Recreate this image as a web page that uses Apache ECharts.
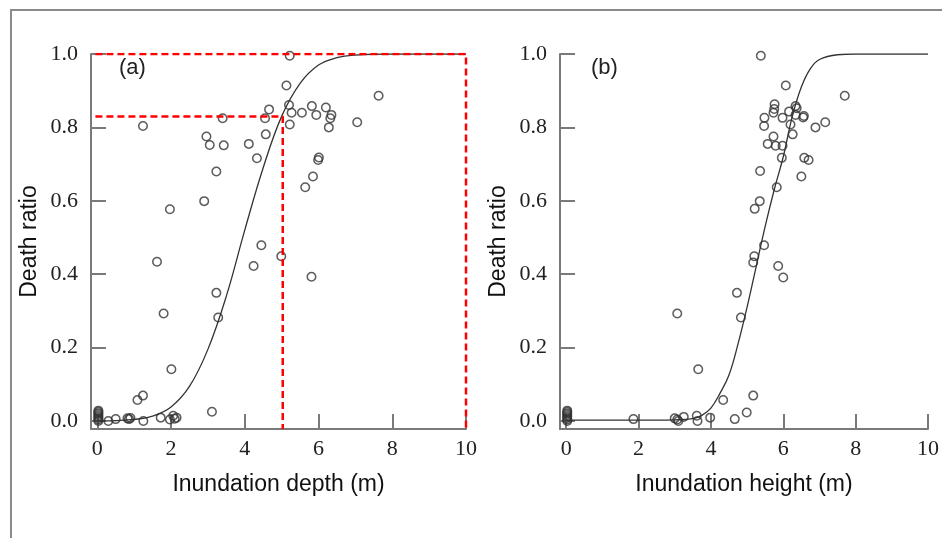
<!DOCTYPE html>
<html>
<head>
<meta charset="utf-8">
<script src="https://cdn.jsdelivr.net/npm/echarts@6/dist/echarts.min.js"></script>
<style>
html,body{margin:0;padding:0;background:#fff;}
#c{width:942px;height:538px;}
</style>
</head>
<body>
<div id="c"></div>
<script>
// ---------- data ----------
const xTicks = [0, 2, 4, 6, 8, 10];
const yTicks = [0, 0.2, 0.4, 0.6, 0.8, 1.0];

// (a) Inundation depth vs death ratio
const depthPoints = [
  [0.03,0.0],[0.03,0.004],[0.03,0.008],[0.03,0.012],[0.03,0.016],[0.03,0.02],[0.03,0.024],[0.03,0.028],
  [0.3,0.0],[0.5,0.005],[0.82,0.007],[0.86,0.005],[0.9,0.008],[1.25,0.0],[1.72,0.009],[1.97,0.004],
  [2.06,0.014],[2.1,0.006],[2.15,0.009],
  [1.09,0.057],[1.24,0.069],[3.11,0.025],[2.01,0.141],[1.80,0.293],[3.28,0.282],[3.23,0.349],
  [1.62,0.434],[4.24,0.422],[4.45,0.479],[4.99,0.449],[5.81,0.393],
  [1.24,0.804],[1.97,0.577],[2.90,0.599],[3.23,0.680],[2.96,0.775],[3.05,0.752],[3.43,0.751],
  [3.40,0.825],[4.11,0.755],[4.33,0.716],[4.57,0.781],[4.55,0.825],[4.66,0.849],
  [5.22,0.995],[5.13,0.914],[5.20,0.861],[5.27,0.840],[5.22,0.808],[5.55,0.840],[5.82,0.858],
  [5.94,0.834],[6.20,0.854],[6.35,0.834],[6.32,0.825],[6.28,0.800],[6.01,0.718],[5.99,0.711],
  [5.85,0.666],[5.64,0.637],[7.05,0.814],[7.63,0.886]
];
const depthCurve = [
  [0,0.0],[0.5,0.001],[1.0,0.004],[1.5,0.013],[2.0,0.038],[2.5,0.094],[3.0,0.195],[3.5,0.34],
  [4.0,0.52],[4.5,0.69],[5.0,0.83],[5.5,0.92],[6.0,0.97],[6.5,0.99],[7.0,0.997],[8.0,1.0],[10.0,1.0]
];
const redOuter = [[-0.05,1.0],[10,1.0],[10,-0.022]];
const redInner = [[-0.05,0.83],[5.03,0.83],[5.03,-0.022]];

// (b) Inundation height vs death ratio
const heightPoints = [
  [0.03,0.0],[0.03,0.004],[0.03,0.008],[0.03,0.012],[0.03,0.016],[0.03,0.02],[0.03,0.024],[0.03,0.028],
  [1.86,0.005],[3.0,0.007],[3.07,0.004],[3.1,0.0],[3.25,0.011],[3.61,0.014],[3.63,0.0],[3.98,0.009],[4.66,0.005],
  [4.99,0.023],[4.34,0.057],[5.17,0.069],[3.65,0.141],[3.07,0.293],[4.83,0.282],[4.72,0.349],
  [6.0,0.391],[5.86,0.422],[5.17,0.432],[5.20,0.449],[5.47,0.479],
  [5.21,0.578],[5.35,0.599],[5.82,0.637],[6.50,0.666],[5.36,0.681],[5.96,0.717],[6.58,0.717],
  [6.70,0.711],[5.57,0.755],[5.79,0.750],[5.98,0.750],[5.73,0.775],[6.26,0.781],[5.47,0.804],
  [6.20,0.808],[6.89,0.800],[7.16,0.814],[5.48,0.826],[5.98,0.826],[6.55,0.827],[6.57,0.831],
  [6.34,0.834],[5.73,0.840],[6.16,0.843],[5.75,0.850],[6.37,0.852],[6.34,0.858],[5.76,0.863],
  [7.70,0.886],[6.07,0.914],[5.38,0.995]
];
const heightCurve = [
  [0,0.002],[1,0.002],[2,0.002],[3,0.003],[3.5,0.006],[3.75,0.015],[4.0,0.035],[4.25,0.075],
  [4.5,0.125],[4.75,0.21],[5.0,0.31],[5.25,0.42],[5.5,0.53],[5.75,0.63],[6.0,0.72],[6.25,0.83],
  [6.5,0.91],[6.75,0.96],[7.0,0.985],[7.5,0.998],[8.0,1.0],[10.0,1.0]
];

const xNames = ['Inundation depth (m)', 'Inundation height (m)'];
const yName = 'Death ratio';
const panelLabels = ['(a)', '(b)'];

// ---------- chart ----------
const chart = echarts.init(document.getElementById('c'), null, {renderer: 'canvas'});
const axisCol = '#7a7a7a';
const serif = '"Liberation Serif", "Times New Roman", serif';
const sans = '"Liberation Sans", Arial, sans-serif';

function xAx(i) {
  return {
    type: 'value', gridIndex: i, min: -0.17, max: 10,
    name: xNames[i], nameLocation: 'middle', nameGap: 44,
    nameTextStyle: {fontFamily: sans, fontSize: 23, color: '#111'},
    axisLine: {show: true, onZero: false, lineStyle: {color: axisCol, width: 2}},
    axisTick: {show: true, inside: true, length: 15, customValues: xTicks, lineStyle: {color: axisCol, width: 2}},
    axisLabel: {customValues: xTicks, margin: 9, fontFamily: serif, fontSize: 22, color: '#222'},
    splitLine: {show: false}
  };
}
function yAx(i) {
  return {
    type: 'value', gridIndex: i, min: -0.022, max: 1.0,
    name: yName, nameLocation: 'middle', nameGap: 50,
    nameTextStyle: {fontFamily: sans, fontSize: 23, color: '#111'},
    axisLine: {show: true, onZero: false, lineStyle: {color: axisCol, width: 2}},
    axisTick: {show: true, inside: true, length: 15, customValues: yTicks, lineStyle: {color: axisCol, width: 2}},
    axisLabel: {customValues: yTicks, margin: 13, fontFamily: serif, fontSize: 22, color: '#222',
      formatter: v => v.toFixed(1)},
    splitLine: {show: false}
  };
}
const scatterStyle = {color: 'rgba(0,0,0,0)', borderColor: '#333', borderWidth: 1.5};
function curve(i, data) {
  return {type: 'line', xAxisIndex: i, yAxisIndex: i, data: data, smooth: 0.4, showSymbol: false,
    lineStyle: {color: '#333', width: 1.3}, z: 2, silent: true};
}
function pts(i, data) {
  return {type: 'scatter', xAxisIndex: i, yAxisIndex: i, data: data, symbol: 'circle', symbolSize: 8.5,
    itemStyle: scatterStyle, z: 3, silent: true};
}
function red(data) {
  return {type: 'line', xAxisIndex: 0, yAxisIndex: 0, data: data, showSymbol: false,
    lineStyle: {color: '#ff0000', width: 2.5, type: [7, 4]}, z: 4, silent: true};
}

chart.setOption({
  animation: false,
  backgroundColor: '#fff',
  grid: [
    {left: 91, right: 476, top: 54, bottom: 109},
    {left: 560, right: 10, top: 54, bottom: 109}
  ],
  xAxis: [xAx(0), xAx(1)],
  yAxis: [yAx(0), yAx(1)],
  series: [
    curve(0, depthCurve), pts(0, depthPoints), red(redOuter), red(redInner),
    curve(1, heightCurve), pts(1, heightPoints)
  ],
  graphic: [
    {type: 'polyline', shape: {points: [[11, 538], [11, 10], [942, 10]]},
      style: {stroke: '#8a8a8a', lineWidth: 2, fill: null}},
    {type: 'text', left: 119, top: 57, style: {text: panelLabels[0], font: '22px ' + sans, fill: '#222'}},
    {type: 'text', left: 591, top: 57, style: {text: panelLabels[1], font: '22px ' + sans, fill: '#222'}}
  ]
});
</script>
</body>
</html>
